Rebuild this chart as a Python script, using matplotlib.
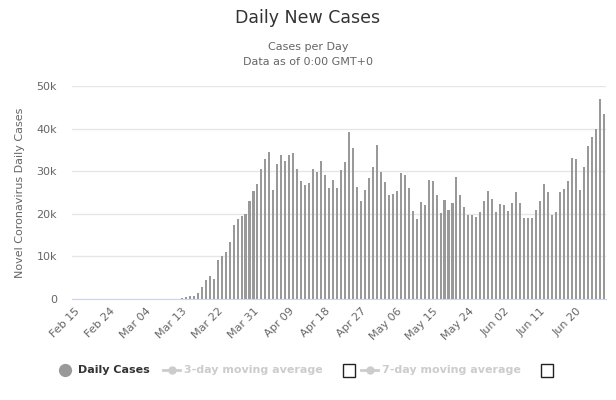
import numpy as np
import matplotlib.pyplot as plt
from matplotlib.lines import Line2D
from matplotlib.patches import Rectangle

# x axis tick labels, every 9 days from Feb 15
tick_labels = ['Feb 15', 'Feb 24', 'Mar 04', 'Mar 13', 'Mar 22', 'Mar 31',
               'Apr 09', 'Apr 18', 'Apr 27', 'May 06', 'May 15', 'May 24',
               'Jun 02', 'Jun 11', 'Jun 20']

# daily new cases, Feb 15 .. Jun 27 (one value per day)
feb_cases = [0] * 15  # Feb 15 - Feb 29
mar_cases = [2, 5, 10, 15, 20, 25, 30, 35, 40, 50, 60, 80,
             250, 400, 600, 700, 1300, 2800, 4400, 5400, 4600, 9100,
             10100, 11000, 13400, 17400, 18800, 19600, 20000, 23100, 25300]
apr_cases = [26900, 30400, 32800, 34600, 25700, 31600, 33900, 32300, 33900, 34300,
             30400, 27800, 26800, 27300, 30600, 29900, 32300, 29000, 26100, 28000,
             26100, 30200, 32100, 39100, 35400, 26400, 23100, 25500, 28500, 30900]
may_cases = [36100, 29800, 27400, 24500, 24700, 25400, 29500, 29200, 26100, 20700,
             18700, 22800, 22100, 28000, 27600, 24300, 20100, 23300, 20800, 22600,
             28700, 24500, 21700, 19800, 19800, 19300, 20500, 22900, 25400, 23500,
             20500]
jun_cases = [22400, 22100, 20700, 22600, 25200, 22600, 18900, 18900, 18900, 20800,
             23100, 27000, 25200, 19800, 20500, 25200, 25900, 27600, 33200, 32900,
             25700, 31100, 35800, 38100, 39800, 47000, 43400]

daily_cases = feb_cases + mar_cases + apr_cases + may_cases + jun_cases
x = np.arange(len(daily_cases))

fig = plt.figure(figsize=(6.16, 4.0), dpi=100)
ax = fig.add_axes([72.4 / 616, 1 - 299 / 400, 533.3 / 616, 213 / 400])

ax.bar(x, daily_cases, width=0.52, color='#999999', zorder=2)

ax.set_xlim(-0.5, len(daily_cases) - 0.5)
ax.set_ylim(0, 50000)
ax.set_yticks(np.arange(0, 50001, 10000))
ax.set_yticklabels(['0', '10k', '20k', '30k', '40k', '50k'])
ax.yaxis.grid(True, color='#e6e6e6', linewidth=1, zorder=0)
ax.set_axisbelow(True)

ax.set_xticks(np.arange(0, 9 * len(tick_labels), 9))
ax.set_xticklabels(tick_labels, rotation=45, ha='right', va='top',
                   rotation_mode='anchor')

for side in ['top', 'right', 'left']:
    ax.spines[side].set_visible(False)
ax.spines['bottom'].set_color('#ccd6eb')
ax.tick_params(axis='both', length=0, labelsize=8, labelcolor='#666666')
ax.tick_params(axis='y', pad=11)
ax.tick_params(axis='x', pad=5)

ax.set_ylabel('Novel Coronavirus Daily Cases', fontsize=8, color='#666666',
              labelpad=8)

# titles
fig.text(0.5, 1 - 18 / 400, 'Daily New Cases', ha='center', va='center',
         fontsize=12.5, color='#333333')
fig.text(0.5, 1 - 47 / 400, 'Cases per Day', ha='center', va='center',
         fontsize=8, color='#666666')
fig.text(0.5, 1 - 62 / 400, 'Data as of 0:00 GMT+0', ha='center', va='center',
         fontsize=8, color='#666666')

# legend drawn in pixel coordinates
lg = fig.add_axes([0, 0, 1, 1], zorder=5)
lg.set_xlim(0, 616)
lg.set_ylim(400, 0)
lg.axis('off')
ly = 370
lg.plot([65], [ly], 'o', color='#999999', markersize=8.5)
lg.text(78, ly, 'Daily Cases', fontsize=8, fontweight='bold', color='#333333',
        va='center')
for x0, txt, box_x in [(163, '3-day moving average', 343),
                       (361, '7-day moving average', 541)]:
    lg.add_line(Line2D([x0, x0 + 17], [ly, ly], color='#cccccc', linewidth=2))
    lg.plot([x0 + 8.5], [ly], 'o', color='#cccccc', markersize=5)
    lg.text(x0 + 21, ly, txt, fontsize=8, fontweight='bold', color='#cccccc',
            va='center')
    lg.add_patch(Rectangle((box_x, ly - 6), 12, 13, fill=False,
                           edgecolor='#222222', linewidth=1))

fig.savefig('out.png', dpi=100)
